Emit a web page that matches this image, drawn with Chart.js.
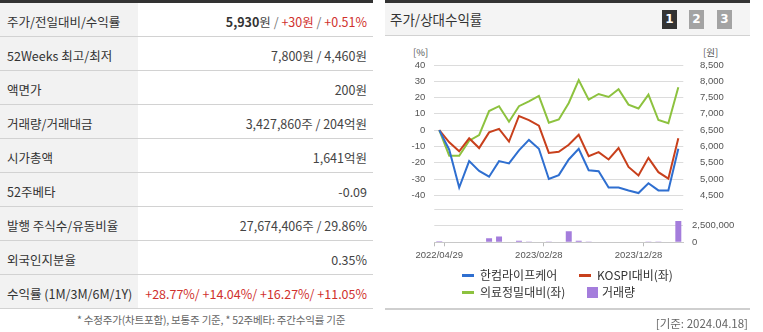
<!DOCTYPE html>
<html><head><meta charset="utf-8">
<script src="https://cdn.jsdelivr.net/npm/chart.js@4.4.1/dist/chart.umd.min.js"></script>
<style>
*{box-sizing:border-box}
body{margin:0;width:763px;height:332px;background:#fff;position:relative;overflow:hidden;font-family:"Noto Sans CJK KR","Noto Sans",sans-serif;color:#333}
.abs{position:absolute}
#tbl{left:0;top:0;width:373px;border-top:3px solid #333}
.row{height:34px;border-bottom:1px solid #d2d2d2;display:flex;font-size:12.5px}
.lab{width:138px;background:#f2f2f2;padding-left:7px;padding-top:1px;line-height:35px;white-space:nowrap}
.val{flex:1;text-align:right;padding-right:6px;padding-top:1px;line-height:35px;white-space:nowrap;color:#444}
.red{color:#d0312d}
.gr{color:#777}
#foot{left:77px;top:311px;font-size:10.5px;color:#666;white-space:nowrap;line-height:18px;letter-spacing:-0.2px}
#panel{left:385px;top:0;width:365px;height:36px;border-top:3px solid #333;border-bottom:1px solid #d2d2d2;background:#f4f4f4}
#ptitle{left:390px;top:9px;font-size:13.5px;line-height:20px;color:#333}
.btn{top:10px;width:15px;height:19px;color:#fff;font:bold 12px "DejaVu Sans",sans-serif;text-align:center;line-height:19px}
#bline{left:385px;top:308px;width:365px;height:2px;background:#cfcfcf}
#base{right:15px;top:314px;font-size:11.5px;color:#666;line-height:18px}
.unit{font:9.5px "Noto Sans CJK KR",sans-serif;color:#555;line-height:12px}
.leg{font-size:12px;color:#333;line-height:16px;white-space:nowrap}
.mk{position:absolute;width:12px;height:3px}
</style></head><body>

<div id="tbl" class="abs"></div>
<div id="foot" class="abs">* 수정주가(차트포함), 보통주 기준, * 52주베타: 주간수익률 기준</div>

<div id="panel" class="abs"></div>
<div id="ptitle" class="abs">주가/상대수익률</div>
<div class="abs btn" style="left:662px;background:#333">1</div>
<div class="abs btn" style="left:689px;background:#a3a3a3">2</div>
<div class="abs btn" style="left:717px;background:#a3a3a3">3</div>

<div class="abs unit" style="left:413px;top:46px">[%]</div>
<div class="abs unit" style="left:703px;top:46px">[원]</div>

<canvas id="c1" class="abs" style="left:385px;top:40px" width="378" height="170"></canvas>
<canvas id="c2" class="abs" style="left:385px;top:195px" width="378" height="65"></canvas>

<div id="legend"></div>
<div id="bline" class="abs"></div>
<div id="base" class="abs">[기준: 2024.04.18]</div>

<script>
// ---- table content ----
const tableLabels = ["주가/전일대비/수익률","52Weeks 최고/최저","액면가","거래량/거래대금","시가총액","52주베타","발행 주식수/유동비율","외국인지분율","수익률 (1M/3M/6M/1Y)"];
const tableValues = [
  '<b style="color:#333">5,930</b>원 <span class="gr">/</span> <span class="red">+30원</span> <span class="gr">/</span> <span class="red">+0.51%</span>',
  "7,800원 / 4,460원","200원","3,427,860주 / 204억원","1,641억원","-0.09","27,674,406주 / 29.86%","0.35%",
  '<span class="red">+28.77%/ +14.04%/ +16.27%/ +11.05%</span>'
];

// ---- chart data ----
const dates = ["2022/04/29","2022/05/31","2022/06/30","2022/07/29","2022/08/31","2022/09/30","2022/10/31","2022/11/30","2022/12/28","2023/01/31","2023/02/28","2023/03/31","2023/04/28","2023/05/31","2023/06/30","2023/07/31","2023/08/31","2023/09/27","2023/10/31","2023/11/30","2023/12/28","2024/01/31","2024/02/29","2024/03/29","2024/04/18"];
const price   = [6500,5900,4740,5550,5250,5070,5550,5480,5880,6200,5930,5000,5120,5600,5930,5270,5240,4740,4740,4650,4570,4870,4650,4650,5930];
const kospiRel = [0,-7.5,-13,-5,-11,-1.4,0.8,-7,8.7,6.2,2.8,-14,-13.3,-9,-2.8,-16,-13.5,-18,-11,-22.6,-27.8,-17,-25.8,-29.8,-5];
const medRel   = [0,-15.7,-15.7,-6.5,-3,11.7,14.7,5.2,14.7,17.7,21,4.6,6.6,16.7,30.8,18.7,22.2,20.4,25.2,15.7,13.3,21.8,6.2,4.2,26.4];
const volume   = [160000,0,0,0,0,630000,900000,0,240000,120000,0,120000,0,1690000,240000,120000,0,0,0,0,0,120000,120000,0,3230000];
const labeledIdx = [0,10,20];
const seriesNames = ["한컴라이프케어","KOSPI대비(좌)","의료정밀대비(좌)","거래량"];

const BLUE="#2f6fd0", RED="#c8401c", GREEN="#8dc23f", PURPLE="#a47ddc";

const tbl=document.getElementById('tbl');
tableLabels.forEach((l,i)=>{
  const r=document.createElement('div');r.className='row';
  r.innerHTML='<div class="lab">'+l+'</div><div class="val">'+tableValues[i]+'</div>';
  tbl.appendChild(r);
});

// legend (HTML)
const leg=document.getElementById('legend');
const legItems=[
  {x:462,y:267,c:BLUE,t:seriesNames[0],sq:false},
  {x:579,y:267,c:RED,t:seriesNames[1],sq:false},
  {x:462,y:284,c:GREEN,t:seriesNames[2],sq:false},
  {x:587,y:284,c:PURPLE,t:seriesNames[3],sq:true}
];
legItems.forEach(it=>{
  const d=document.createElement('div');d.className='abs leg';
  d.style.left=it.x+'px';d.style.top=it.y+'px';
  const m=document.createElement('div');m.className='mk';m.style.background=it.c;
  if(it.sq){m.style.width='11px';m.style.height='11px';m.style.top='3px';}
  else{m.style.top='7px';}
  d.appendChild(m);
  const s=document.createElement('span');s.textContent=it.t;s.style.marginLeft=(it.sq?15:18)+'px';
  d.appendChild(s);
  leg.appendChild(d);
});

const tickFont={family:"'Liberation Sans', Arial, sans-serif",size:9.5};
const tickColor="#555";
const fmt=v=>Number(v).toLocaleString('en-US');

new Chart(document.getElementById('c1'),{
  type:'line',
  data:{labels:dates,datasets:[
    {label:seriesNames[0],data:price,yAxisID:'yR',borderColor:BLUE,borderWidth:2,pointRadius:0,tension:0},
    {label:seriesNames[1],data:kospiRel,yAxisID:'y',borderColor:RED,borderWidth:2,pointRadius:0,tension:0},
    {label:seriesNames[2],data:medRel,yAxisID:'y',borderColor:GREEN,borderWidth:2,pointRadius:0,tension:0}
  ]},
  options:{
    responsive:false,animation:false,devicePixelRatio:1,
    layout:{padding:{top:25,bottom:12.3,left:0,right:0}},
    plugins:{legend:{display:false},tooltip:{enabled:false}},
    scales:{
      x:{display:false,offset:true},
      y:{position:'left',min:-40,max:40,ticks:{stepSize:10,padding:9,color:tickColor,font:tickFont},
         grid:{color:'#dcdcdc',drawTicks:false},border:{display:false},afterFit(a){a.width=49.3;}},
      yR:{position:'right',min:4500,max:8500,ticks:{stepSize:500,padding:8.7,color:tickColor,font:tickFont,callback:fmt},
         grid:{display:false},border:{display:false},afterFit(a){a.width=79.7;}}
    }
  }
});

new Chart(document.getElementById('c2'),{
  type:'bar',
  data:{labels:dates,datasets:[
    {label:seriesNames[3],data:volume,yAxisID:'yV',backgroundColor:PURPLE,barPercentage:0.6,categoryPercentage:1}
  ]},
  options:{
    responsive:false,animation:false,devicePixelRatio:1,
    layout:{padding:{top:5,left:49.3,right:0,bottom:0}},
    plugins:{legend:{display:false},tooltip:{enabled:false}},
    scales:{
      x:{offset:true,
         grid:{offset:true,drawOnChartArea:false,tickLength:4,
           color:ctx=>([0,1,11,21].includes(ctx.index)?'#bbb':'rgba(0,0,0,0)')},
         border:{color:'#c8c8c8'},
         ticks:{autoSkip:false,maxRotation:0,minRotation:0,padding:3,color:tickColor,font:tickFont,
           callback:(v,i)=>labeledIdx.includes(i)?dates[i]:''},
         afterFit(a){a.height=17.7;}},
      yV:{position:'right',min:0,max:5000000,
          ticks:{stepSize:2500000,padding:8.7,color:tickColor,font:tickFont,callback:v=>v===5000000?'':fmt(v)},
          grid:{color:'#dcdcdc',drawTicks:false},border:{display:false},afterFit(a){a.width=79.7;}}
    }
  }
});
</script>
</body></html>
